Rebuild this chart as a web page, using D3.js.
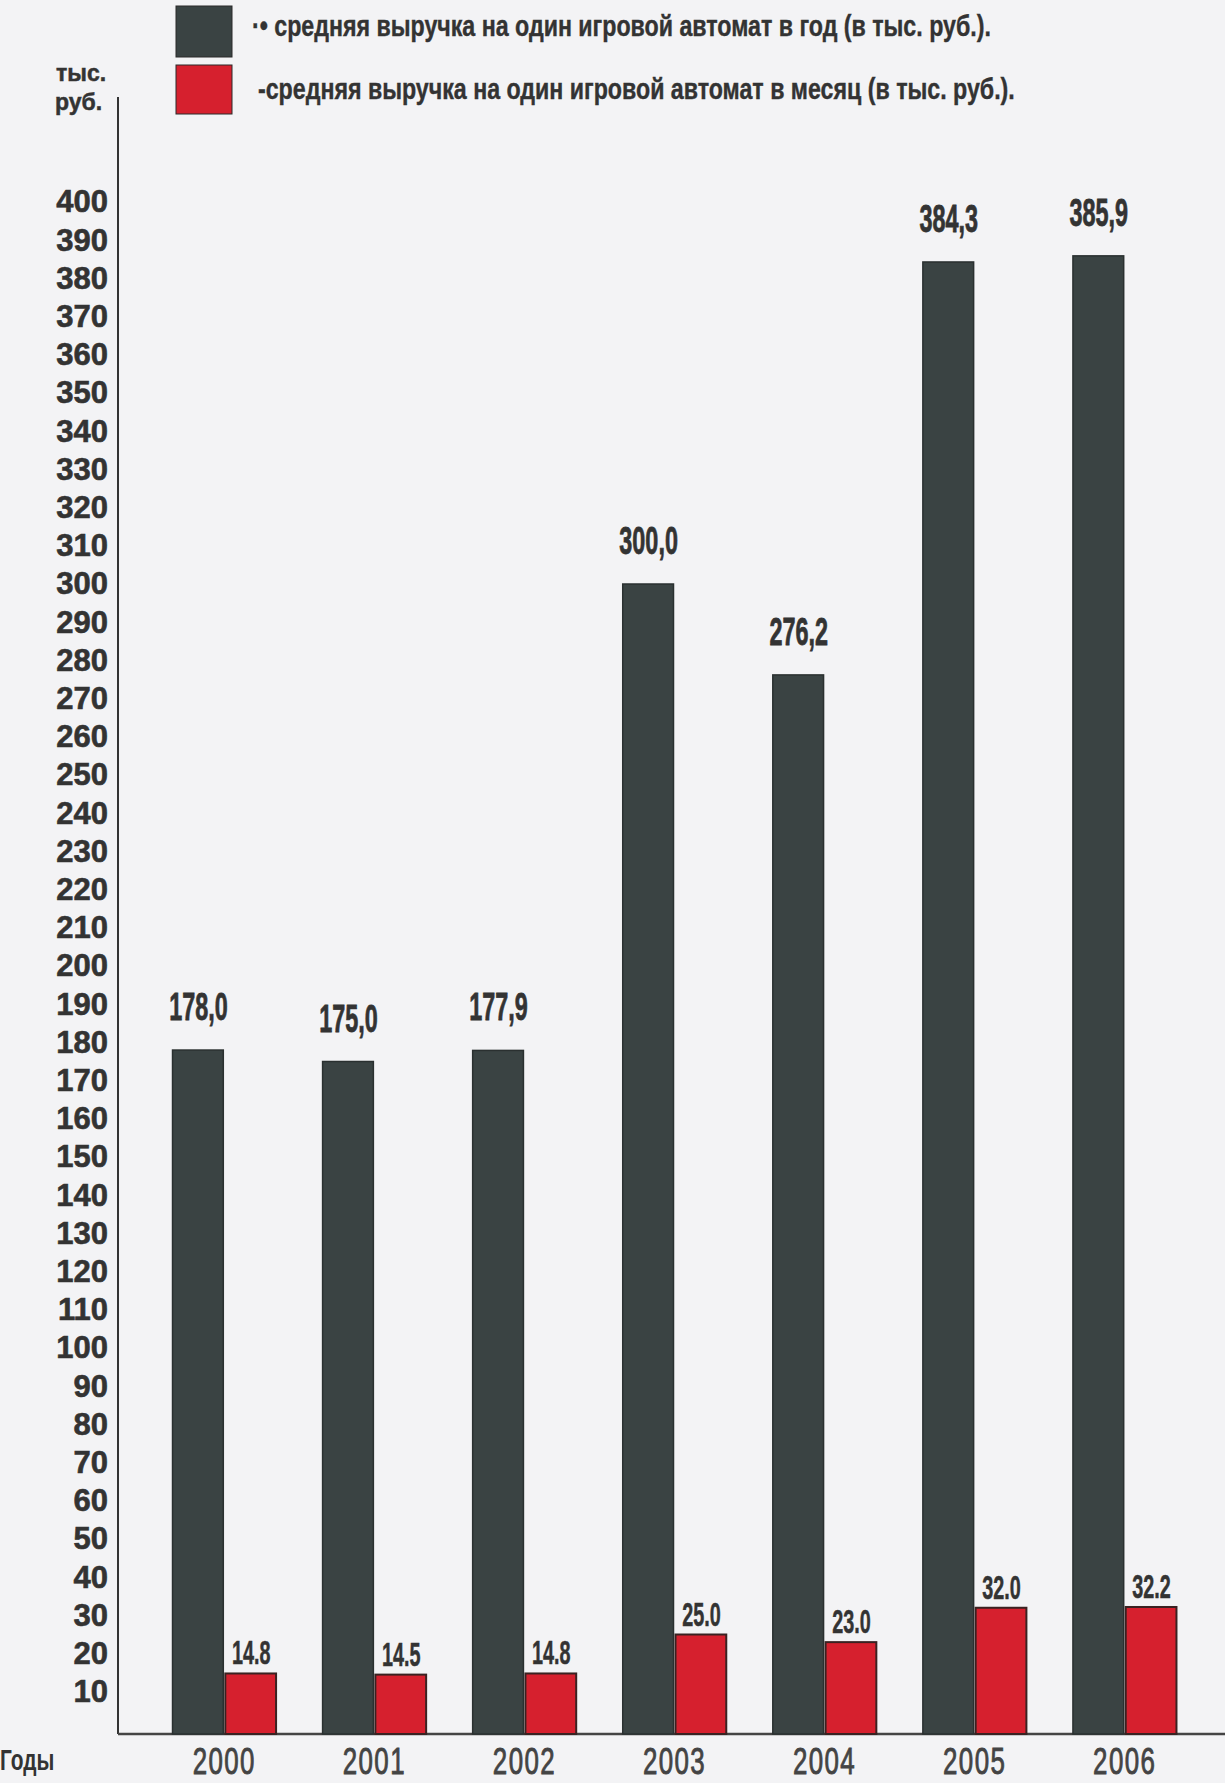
<!DOCTYPE html>
<html>
<head>
<meta charset="utf-8">
<script src="https://cdn.jsdelivr.net/npm/d3@7"></script>
<style>
  body { margin: 0; background: #f3f3f5; }
  svg { display: block; }
</style>
</head>
<body>
<script>
const years = ["2000", "2001", "2002", "2003", "2004", "2005", "2006"];
const perYear = [178.0, 175.0, 177.9, 300.0, 276.2, 384.3, 385.9];
const perMonth = [14.8, 14.5, 14.8, 25.0, 23.0, 32.0, 32.2];
const yearLabels = ["178,0", "175,0", "177,9", "300,0", "276,2", "384,3", "385,9"];
const monthLabels = ["14.8", "14.5", "14.8", "25.0", "23.0", "32.0", "32.2"];
const yTicks = d3.range(10, 401, 10);
const legendText = [
    "·• средняя выручка на один игровой автомат  в год (в тыс. руб.).",
    "-средняя выручка на один игровой автомат  в месяц (в тыс. руб.)."
];

const width = 1225;
const height = 1783;
const axisX = 118;
const baseY = 1734;

const colDark = "#3a4343";
const colRed = "#d6202e";
const font = "Liberation Sans, Arial, sans-serif";

let svg = d3.select("body")
    .append("svg")
    .attr("width", width)
    .attr("height", height);

// narrow text: no condensed face installed, so squeeze it horizontally
function narrow(sel, sx) {
    sel.attr("transform", function () {
        let t = d3.select(this);
        let tx = +t.attr("data-x"), ty = +t.attr("data-y");
        return "translate(" + tx + "," + ty + ") scale(" + sx + ",1)";
    });
}

let x = d3.scaleBand()
    .domain(years)
    .range([120, 1229])
    .paddingInner(0.31)
    .paddingOuter(0.35);

let inner = d3.scaleBand()
    .domain(["year", "month"])
    .range([0, x.bandwidth()]);

let y = d3.scaleLinear()
    .domain([0, 400])
    .range([1730, 202]);

// y tick labels
let yAxis = d3.axisLeft(y)
    .tickValues(yTicks)
    .tickSize(0)
    .tickPadding(0);

let gy = svg.append("g")
    .attr("transform", "translate(108,0)")
    .call(yAxis);
gy.select(".domain").remove();
gy.selectAll("text")
    .attr("font-family", font)
    .attr("font-weight", "bold")
    .attr("font-size", 31)
    .attr("fill", "#333")
    .attr("stroke", "#333")
    .attr("stroke-width", 0.6);

// axis lines
svg.append("line")
    .attr("x1", axisX).attr("x2", axisX)
    .attr("y1", 97).attr("y2", baseY)
    .attr("stroke", "#333").attr("stroke-width", 2);

svg.append("line")
    .attr("x1", axisX).attr("x2", width)
    .attr("y1", baseY).attr("y2", baseY)
    .attr("stroke", "#444").attr("stroke-width", 2.5);

// bars
let groups = svg.selectAll(".grp")
    .data(years)
    .enter()
    .append("g")
    .attr("class", "grp")
    .attr("transform", d => "translate(" + x(d) + ",0)");

groups.append("rect")
    .attr("x", inner("year"))
    .attr("y", (d, i) => y(perYear[i]))
    .attr("width", inner.bandwidth() - 1)
    .attr("height", (d, i) => baseY - y(perYear[i]))
    .attr("fill", colDark)
    .attr("stroke", "#2a3030")
    .attr("stroke-width", 1.5);

groups.append("rect")
    .attr("x", inner("month") + 1)
    .attr("y", (d, i) => y(perMonth[i]))
    .attr("width", inner.bandwidth() - 1)
    .attr("height", (d, i) => baseY - y(perMonth[i]))
    .attr("fill", colRed)
    .attr("stroke", "#3a2222")
    .attr("stroke-width", 2);

// value labels
groups.append("text")
    .attr("data-x", inner("year") + inner.bandwidth() / 2)
    .attr("data-y", (d, i) => y(perYear[i]) - 30)
    .attr("text-anchor", "middle")
    .attr("font-family", font)
    .attr("font-weight", "bold")
    .attr("font-size", 39)
    .attr("fill", "#333")
    .attr("stroke", "#333")
    .attr("stroke-width", 0.8)
    .text((d, i) => yearLabels[i])
    .call(narrow, 0.6);

groups.append("text")
    .attr("data-x", inner("month") + inner.bandwidth() / 2 + 1)
    .attr("data-y", (d, i) => y(perMonth[i]) - 9)
    .attr("text-anchor", "middle")
    .attr("font-family", font)
    .attr("font-weight", "bold")
    .attr("font-size", 33)
    .attr("fill", "#333")
    .attr("stroke", "#333")
    .attr("stroke-width", 0.5)
    .text((d, i) => monthLabels[i])
    .call(narrow, 0.6);

// year labels
groups.append("text")
    .attr("data-x", x.bandwidth() / 2)
    .attr("data-y", 1774)
    .attr("text-anchor", "middle")
    .attr("font-family", font)
    .attr("font-size", 37)
    .attr("letter-spacing", 2)
    .attr("fill", "#444")
    .attr("stroke", "#444")
    .attr("stroke-width", 0.9)
    .text(d => d)
    .call(narrow, 0.7);

svg.append("text")
    .attr("data-x", 0)
    .attr("data-y", 1770)
    .attr("font-family", font)
    .attr("font-weight", "bold")
    .attr("font-size", 29)
    .attr("fill", "#333")
    .text("Годы")
    .call(narrow, 0.72);

// unit label
svg.append("text")
    .attr("x", 56)
    .attr("y", 81)
    .attr("font-family", font)
    .attr("font-weight", "bold")
    .attr("font-size", 23)
    .attr("fill", "#333")
    .attr("stroke", "#333")
    .attr("stroke-width", 0.5)
    .text("тыс.");
svg.append("text")
    .attr("x", 55)
    .attr("y", 110)
    .attr("font-family", font)
    .attr("font-weight", "bold")
    .attr("font-size", 23)
    .attr("fill", "#333")
    .attr("stroke", "#333")
    .attr("stroke-width", 0.5)
    .text("руб.");

// legend
let legendColors = [colDark, colRed];
let legend = svg.selectAll(".leg")
    .data(legendText)
    .enter()
    .append("g")
    .attr("class", "leg")
    .attr("transform", (d, i) => "translate(176," + (6 + i * 59) + ")");

legend.append("rect")
    .attr("width", 56)
    .attr("height", (d, i) => i === 0 ? 51 : 49)
    .attr("fill", (d, i) => legendColors[i])
    .attr("stroke", "#2a2a2a")
    .attr("stroke-width", 1);

legend.append("text")
    .attr("data-x", (d, i) => i === 0 ? 76 : 82)
    .attr("data-y", (d, i) => i === 0 ? 30 : 34)
    .attr("font-family", font)
    .attr("font-weight", "bold")
    .attr("font-size", 29)
    .attr("fill", "#333")
    .attr("stroke", "#333")
    .attr("stroke-width", 0.4)
    .text(d => d)
    .call(narrow, 0.8);
</script>
</body>
</html>
